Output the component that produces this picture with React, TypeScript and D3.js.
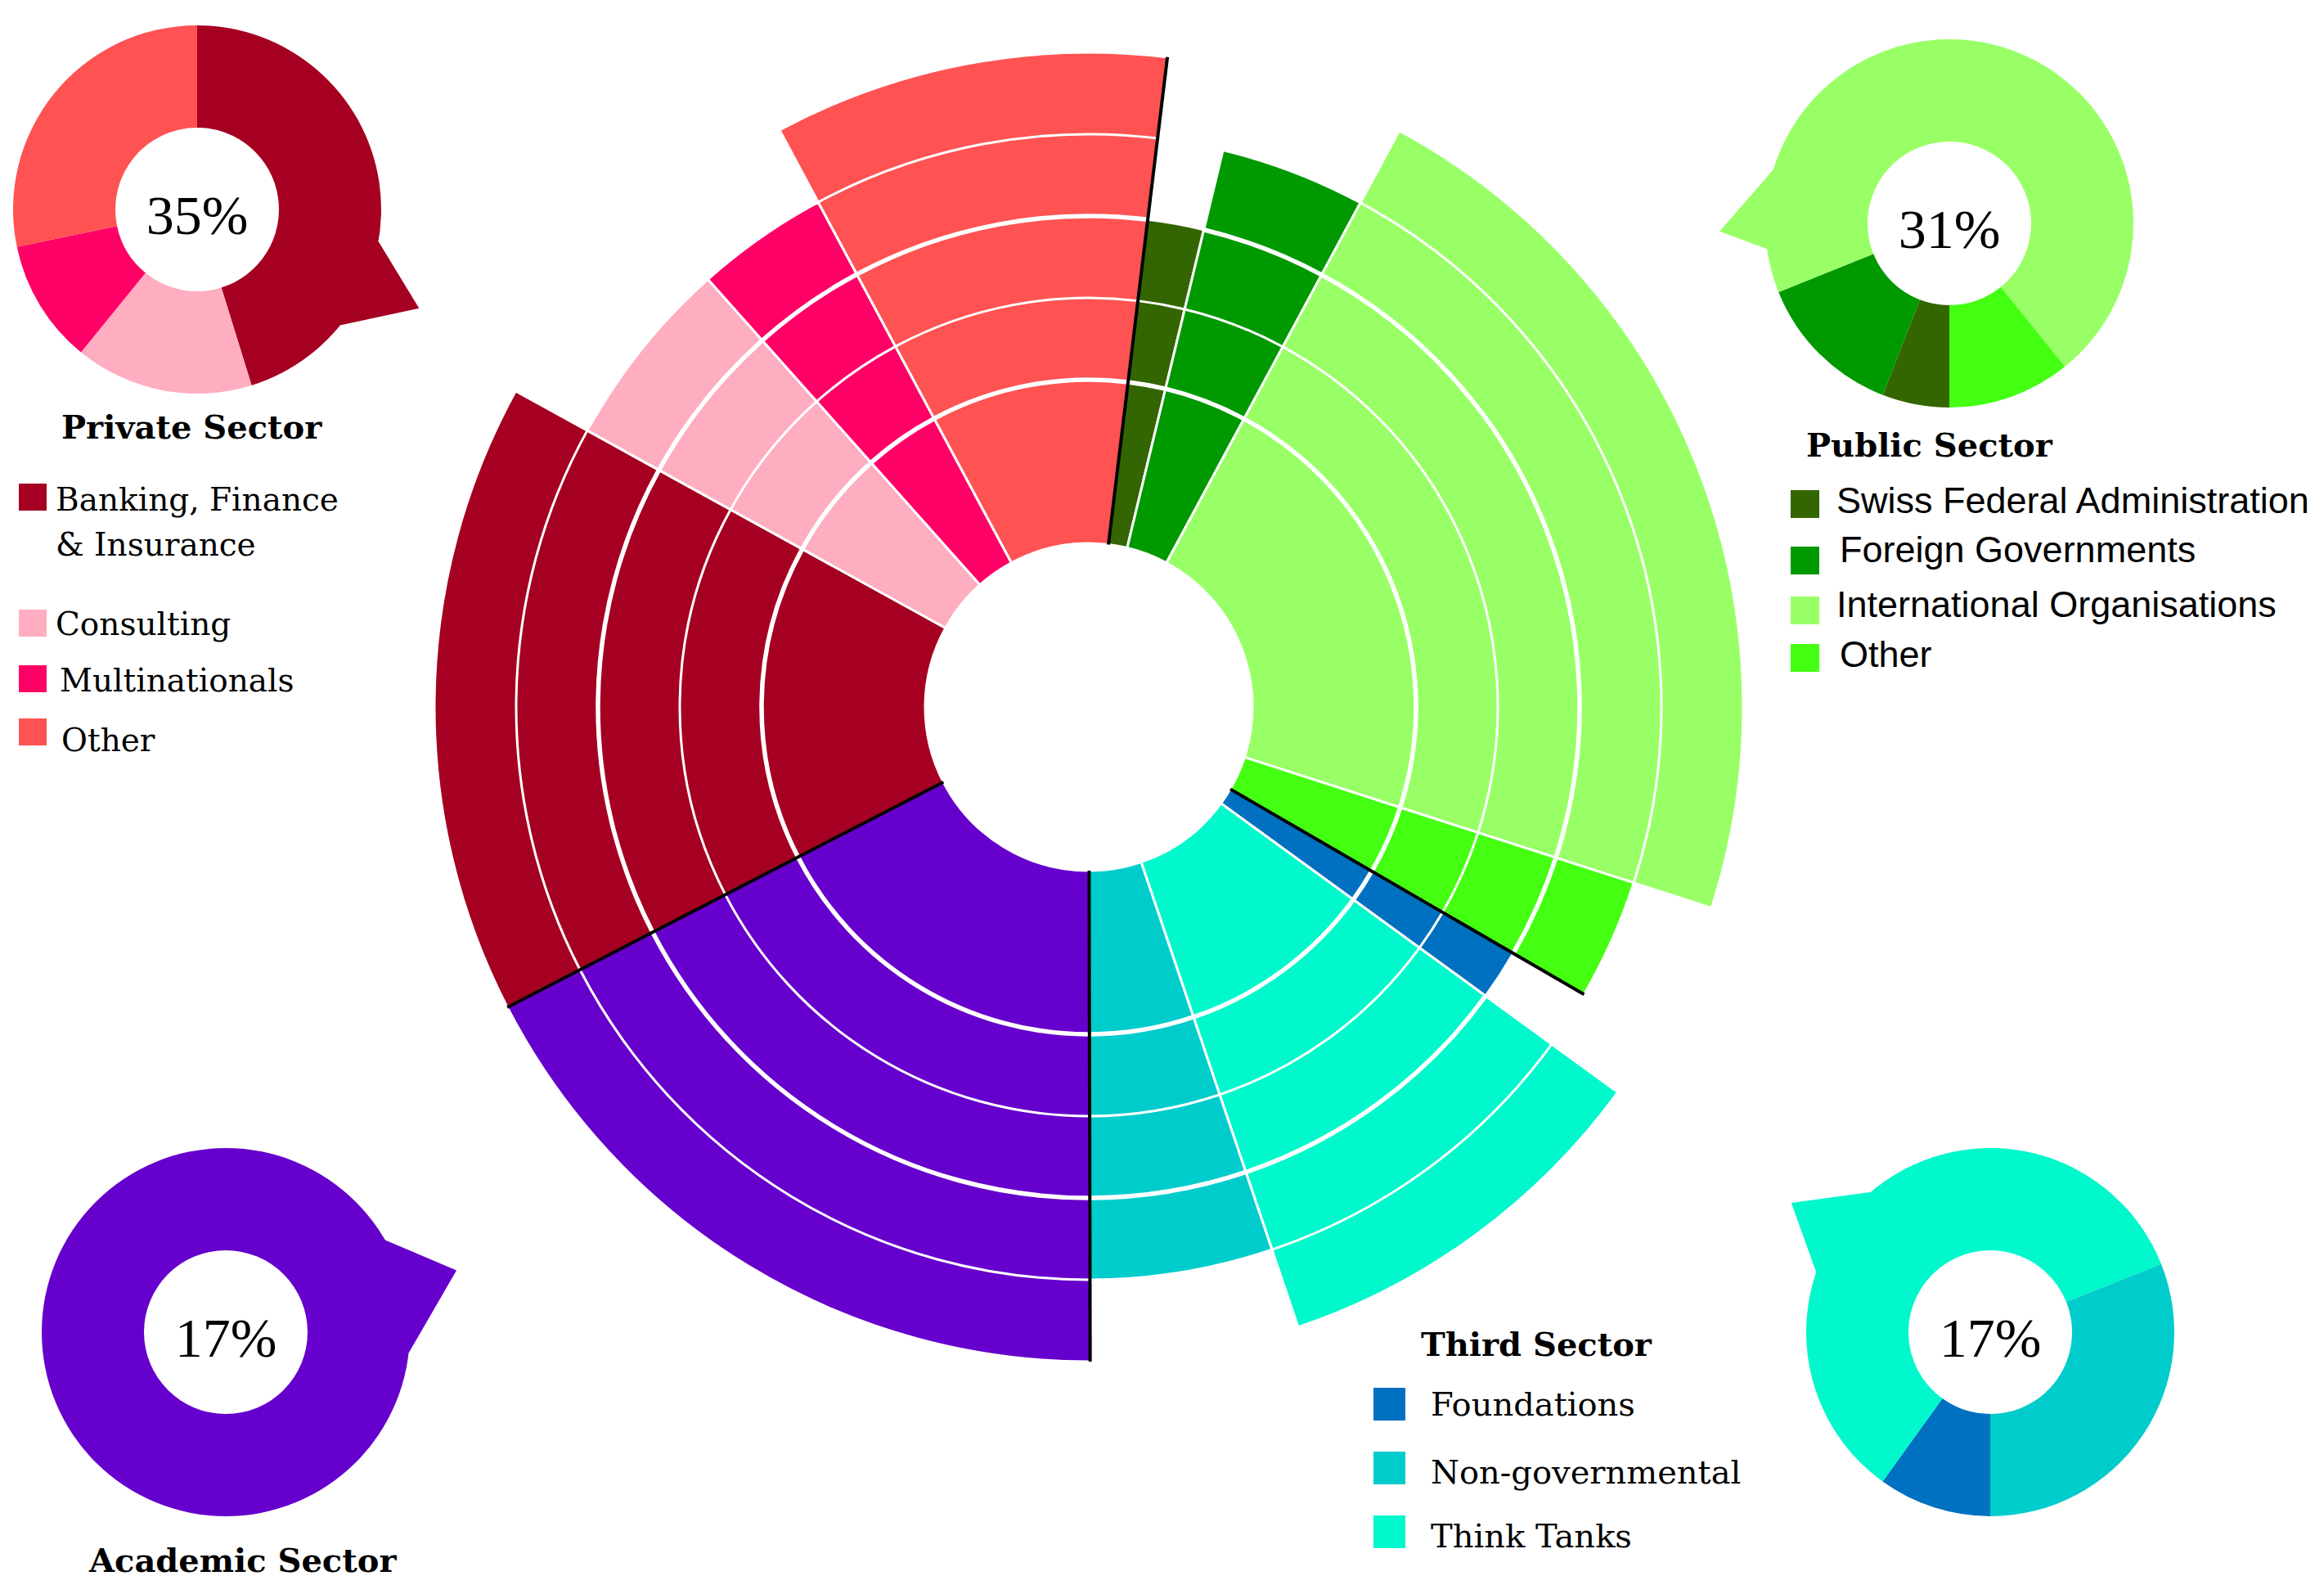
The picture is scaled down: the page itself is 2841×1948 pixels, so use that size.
import React from 'react';
import * as d3 from 'd3';

// ---------------- data ----------------
const sectorNames = ['Private Sector', 'Public Sector', 'Third Sector', 'Academic Sector'];
const sectorShares = ['35%', '31%', '17%', '17%'];

const privateLabels = ['Banking, Finance\n& Insurance', 'Consulting', 'Multinationals', 'Other'];
const privateValues = [15.6, 5.4, 3.75, 9.75];
const privateLevels = [5, 4, 4, 5];
const privateColors = ['#a50021', '#ffadc0', '#ff0066', '#ff5252'];

const publicLabels = ['Swiss Federal Administration', 'Foreign Governments', 'International Organisations', 'Other'];
const publicValues = [1.85, 4.1, 22.1, 3.4];
const publicLevels = [3, 4, 5, 4];
const publicColors = ['#336600', '#009900', '#99ff66', '#44ff11'];

const thirdLabels = ['Foundations', 'Non-governmental', 'Think Tanks'];
const thirdValues = [1.65, 5.15, 9.8];
const thirdLevels = [3, 4, 5];
const thirdColors = ['#0070c0', '#00cccc', '#00f8cc'];
const thirdChartOrder = [0, 2, 1];

const academicLabels = ['Academic'];
const academicValues = [17.45];
const academicLevels = [5];
const academicColors = ['#6600cc'];

// ---------------- layout ----------------
const W = 2841;
const H = 1948;
const CX = 1331;
const CY = 864;
const DEG = Math.PI / 180;
const MAIN_START = 242.7 * DEG;
const SERIF = "'DejaVu Serif', Georgia, serif";
const SANS = "'Liberation Sans', Arial, sans-serif";
const PCT_FONT = "'Liberation Serif', 'Times New Roman', serif";

type Item = { sector: number; label: string; value: number; level: number; color: string };

function buildItems(labels: string[], values: number[], levels: number[], colors: string[], sector: number, order?: number[]): Item[] {
  const idx = order ?? labels.map((_, i) => i);
  return idx.map((i) => ({ sector, label: labels[i], value: values[i], level: levels[i], color: colors[i] }));
}

const groups: Item[][] = [
  buildItems(privateLabels, privateValues, privateLevels, privateColors, 0),
  buildItems(publicLabels, publicValues, publicLevels, publicColors, 1),
  buildItems(thirdLabels, thirdValues, thirdLevels, thirdColors, 2, thirdChartOrder),
  buildItems(academicLabels, academicValues, academicLevels, academicColors, 3),
];

const radius = d3.scaleLinear().domain([0, 1, 5]).range([200, 400, 800]);

const donutLayout = [
  { cx: 241, cy: 256, start: 0, pointer: [100, 129, 114, 297] },
  { cx: 2383, cy: 273, start: 180, pointer: [262, 287, 268, 281] },
  { cx: 2433, cy: 1628, start: 180, pointer: [289, 319.6, 303, 290] },
  { cx: 276, cy: 1628, start: 0, pointer: [60, 96.5, 75, 292] },
];
const DONUT_OUT = 225;
const DONUT_IN = 100;

const titleLayout = [
  { x: 75, y: 536 },
  { x: 2208, y: 558 },
  { x: 1737, y: 1657 },
  { x: 109, y: 1921 },
];

function arcLine(r: number, a0: number, a1: number) {
  const p = d3.path();
  p.arc(0, 0, r, a0 - Math.PI / 2, a1 - Math.PI / 2);
  return p.toString();
}

function polar(r: number, a: number): [number, number] {
  return [r * Math.sin(a), -r * Math.cos(a)];
}

function MainChart() {
  const items = groups.flat();
  const pie = d3
    .pie<Item>()
    .sort(null)
    .value((d) => d.value)
    .startAngle(MAIN_START)
    .endAngle(MAIN_START + 2 * Math.PI);
  const arcs = pie(items);
  const arcGen = d3.arc<any>();

  // sector boundaries
  const boundaries: { a: number; r: number }[] = [];
  arcs.forEach((a, i) => {
    const prev = arcs[(i - 1 + arcs.length) % arcs.length];
    if (prev.data.sector !== a.data.sector) {
      boundaries.push({ a: a.startAngle, r: Math.max(radius(a.data.level), radius(prev.data.level)) });
    }
  });

  return (
    <g transform={`translate(${CX},${CY})`}>
      {arcs.map((a, i) => (
        <path
          key={'w' + i}
          d={arcGen({ innerRadius: radius(0), outerRadius: radius(a.data.level), startAngle: a.startAngle, endAngle: a.endAngle }) as string}
          fill={a.data.color}
          stroke="#ffffff"
          strokeWidth={3}
        />
      ))}
      {arcs.map((a, i) =>
        d3.range(1, a.data.level).map((k) => (
          <path
            key={'r' + i + '-' + k}
            d={arcLine(radius(k), a.startAngle, a.endAngle)}
            fill="none"
            stroke="#ffffff"
            strokeWidth={k % 2 === 1 ? 5.5 : 3}
          />
        ))
      )}
      {boundaries.map((b, i) => {
        const [x1, y1] = polar(radius(0), b.a);
        const [x2, y2] = polar(b.r, b.a);
        return <line key={'b' + i} x1={x1} y1={y1} x2={x2} y2={y2} stroke="#000" strokeWidth={4} />;
      })}
    </g>
  );
}

function Donut({ s }: { s: number }) {
  const lay = donutLayout[s];
  const st = lay.start * DEG;
  const pie = d3
    .pie<Item>()
    .sort(null)
    .value((d) => d.value)
    .startAngle(st)
    .endAngle(st + 2 * Math.PI);
  const arcs = pie(groups[s]);
  const arcGen = d3.arc<any>().innerRadius(DONUT_IN).outerRadius(DONUT_OUT);
  const [b1, b2, t, td] = lay.pointer;
  const tipA = t * DEG;
  const norm = (x: number) => ((x % (2 * Math.PI)) + 2 * Math.PI) % (2 * Math.PI);
  const hit =
    arcs.find((a) => {
      const rel = norm(tipA - a.startAngle);
      return rel <= a.endAngle - a.startAngle;
    }) ?? arcs[0];
  const pts = [polar(DONUT_OUT, b1 * DEG), polar(td, tipA), polar(DONUT_OUT, b2 * DEG), polar(DONUT_OUT - 60, t * DEG)];
  return (
    <g transform={`translate(${lay.cx},${lay.cy})`}>
      <polygon points={pts.map((p) => p.join(',')).join(' ')} fill={hit.data.color} />
      {arcs.map((a, i) => (
        <path key={i} d={arcGen(a) as string} fill={a.data.color} />
      ))}
      <text x={0} y={30} textAnchor="middle" fontFamily={PCT_FONT} fontSize={68} fill="#000">
        {sectorShares[s]}
      </text>
    </g>
  );
}

function Titles() {
  return (
    <g>
      {sectorNames.map((n, i) => (
        <text key={i} x={titleLayout[i].x} y={titleLayout[i].y} fontFamily={SERIF} fontWeight="bold" fontSize={40} fill="#000">
          {n}
        </text>
      ))}
    </g>
  );
}

function Legend({
  labels,
  colors,
  x,
  textX,
  w,
  h,
  tops,
  baselines,
  font,
  size,
  lineGap,
  textXs,
}: {
  labels: string[];
  colors: string[];
  x: number;
  textX: number;
  w: number;
  h: number;
  tops: number[];
  baselines: number[];
  font: string;
  size: number;
  lineGap: number;
  textXs?: number[];
}) {
  return (
    <g>
      {labels.map((l, i) => (
        <g key={i}>
          <rect x={x} y={tops[i]} width={w} height={h} fill={colors[i]} />
          <text x={textXs ? textXs[i] : textX} y={baselines[i]} fontFamily={font} fontSize={size} fill="#000">
            {l.split('\n').map((line, j) => (
              <tspan key={j} x={textXs ? textXs[i] : textX} dy={j === 0 ? 0 : lineGap}>
                {line}
              </tspan>
            ))}
          </text>
        </g>
      ))}
    </g>
  );
}

export default function App() {
  return (
    <svg
      width={W}
      height={H}
      viewBox={`0 0 ${W} ${H}`}
      style={{ position: 'absolute', left: 0, top: 0, background: '#ffffff' }}
      xmlns="http://www.w3.org/2000/svg"
    >
      <rect x={0} y={0} width={W} height={H} fill="#ffffff" />
      <MainChart />
      {[0, 1, 2, 3].map((s) => (
        <Donut key={s} s={s} />
      ))}
      <Titles />
      <Legend
        labels={privateLabels}
        colors={privateColors}
        x={23}
        textX={69}
        textXs={[68, 68, 73, 75]}
        w={34}
        h={33}
        tops={[591, 745, 813, 878]}
        baselines={[624, 776, 845, 918]}
        font={SERIF}
        size={39}
        lineGap={55}
      />
      <Legend
        labels={publicLabels}
        colors={publicColors}
        x={2189}
        textX={2245}
        textXs={[2245, 2249, 2245, 2249]}
        w={35}
        h={34}
        tops={[599, 668, 729, 787]}
        baselines={[627, 687, 754, 815]}
        font={SANS}
        size={45}
        lineGap={50}
      />
      <Legend
        labels={thirdLabels}
        colors={thirdColors}
        x={1679}
        textX={1749}
        w={39}
        h={40}
        tops={[1696, 1774, 1852]}
        baselines={[1730, 1813, 1891]}
        font={SERIF}
        size={40}
        lineGap={50}
      />
    </svg>
  );
}
